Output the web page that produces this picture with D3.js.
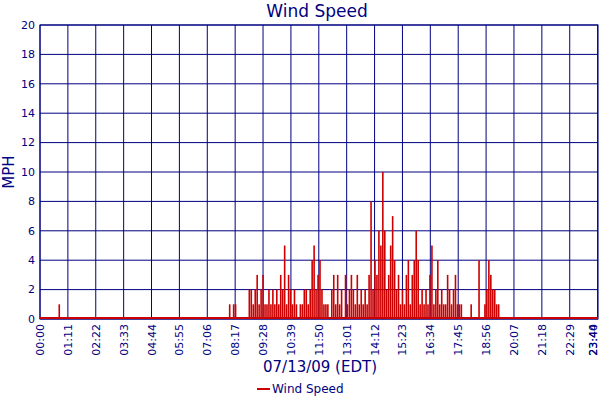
<!DOCTYPE html>
<html><head><meta charset="utf-8">
<script src="https://cdn.jsdelivr.net/npm/d3@7"></script>
<style>body{margin:0;background:#fff}text{font-family:"DejaVu Sans",Verdana,sans-serif}</style>
</head><body><div id="chart"></div>
<script>
// minutes since midnight for tick labels
var tickMinutes = [0,71,142,213,284,355,426,497,568,639,710,781,852,923,994,1065,1136,1207,1278,1349,1420];
var tickLabels = ["00:00","01:11","02:22","03:33","04:44","05:55","07:06","08:17","09:28","10:39","11:50","13:01","14:12","15:23","16:34","17:45","18:56","20:07","21:18","22:29","23:40"];
var yTicks = [0,2,4,6,8,10,12,14,16,18,20];
// isolated early reading
var earlyMinute = 46, earlyValue = 1;
// 5-minute readings from 08:00 to 19:55
var windStart = 480, windStep = 5;
var windMph = [
  1,0,1,1,0,0,0,0,0,0,2,2,
  1,2,3,1,2,3,1,1,2,1,2,1,
  2,1,3,2,5,1,3,2,1,2,1,0,
  1,1,2,2,1,2,4,5,2,3,4,2,
  1,1,1,0,2,3,1,3,1,2,0,3,
  1,2,3,2,1,3,1,2,1,2,1,3,
  8,2,4,3,6,5,10,6,2,3,5,7,
  4,2,3,1,2,1,3,4,1,3,4,6,
  4,1,2,1,2,1,3,5,1,2,4,1,
  2,1,1,3,2,1,2,3,1,1,1,0,
  0,0,0,1,0,0,0,4,0,0,1,2,
  4,3,2,2,1,1,0,0,0,0,0,0
];

function draw() {
  var margin = {top: 25, right: 2, bottom: 81, left: 40},
      width = 600 - margin.left - margin.right,
      height = 400 - margin.top - margin.bottom;
  var navy = "#000080", red = "#cc0000";

  var data = [{m: earlyMinute, v: earlyValue}].concat(
    windMph.map(function (v, i) { return {m: windStart + i * windStep, v: v}; }));

  var svg = d3.select("#chart").append("svg")
      .attr("width", 600).attr("height", 400);
  var g = svg.append("g").attr("transform", "translate(" + margin.left + "," + margin.top + ")");

  var x = d3.scaleLinear().domain([0, 1421]).range([0, width]);
  var y = d3.scaleLinear().domain([0, 20]).range([height, 0]);

  // grid
  g.selectAll(".hg").data(yTicks).enter().append("line")
    .attr("x1", 0).attr("x2", width)
    .attr("y1", function (d) { return y(d); }).attr("y2", function (d) { return y(d); })
    .attr("stroke", navy);
  g.selectAll(".vg").data(tickMinutes).enter().append("line")
    .attr("y1", 0).attr("y2", height)
    .attr("x1", function (d) { return x(d); }).attr("x2", function (d) { return x(d); })
    .attr("stroke", navy);
  g.append("rect").attr("width", width).attr("height", height)
    .attr("fill", "none").attr("stroke", navy);

  // bars
  g.selectAll(".bar").data(data).enter().append("rect")
    .attr("x", function (d) { return x(d.m) + 0.4; })
    .attr("width", 1.6)
    .attr("y", function (d) { return y(d.v); })
    .attr("height", function (d) { return height - y(d.v); })
    .attr("fill", red);
  g.append("line").attr("x1", 0).attr("x2", width)
    .attr("y1", height - 1).attr("y2", height - 1)
    .attr("stroke", red).attr("stroke-width", 2);

  // y labels
  g.selectAll(".yl").data(yTicks).enter().append("text")
    .attr("x", -5).attr("y", function (d) { return y(d); }).attr("dy", "0.35em")
    .attr("text-anchor", "end").attr("font-size", 11).attr("fill", navy)
    .text(function (d) { return d; });

  // x labels
  var xl = tickMinutes.map(function (m, i) { return {m: m, t: tickLabels[i]}; });
  xl.push({m: 1421, t: "23:44"});
  g.selectAll(".xl").data(xl).enter().append("text")
    .attr("transform", function (d) { return "translate(" + Math.min(x(d.m) + 4, width - 1) + "," + (height + 5) + ") rotate(-90)"; })
    .attr("text-anchor", "end").attr("font-size", 11).attr("fill", navy)
    .text(function (d) { return d.t; });

  svg.append("text").attr("x", 317).attr("y", 17).attr("text-anchor", "middle")
    .attr("font-size", 17).attr("fill", navy).text("Wind Speed");
  svg.append("text").attr("transform", "translate(14,172) rotate(-90)")
    .attr("text-anchor", "middle").attr("font-size", 15).attr("fill", navy).text("MPH");
  svg.append("text").attr("x", 320).attr("y", 372).attr("text-anchor", "middle")
    .attr("font-size", 15).attr("fill", navy).text("07/13/09 (EDT)");

  svg.append("line").attr("x1", 257).attr("x2", 270).attr("y1", 389).attr("y2", 389)
    .attr("stroke", red).attr("stroke-width", 2);
  svg.append("text").attr("x", 272).attr("y", 393).attr("font-size", 12)
    .attr("fill", navy).text("Wind Speed");
}
window.onload = draw;
</script></body></html>
